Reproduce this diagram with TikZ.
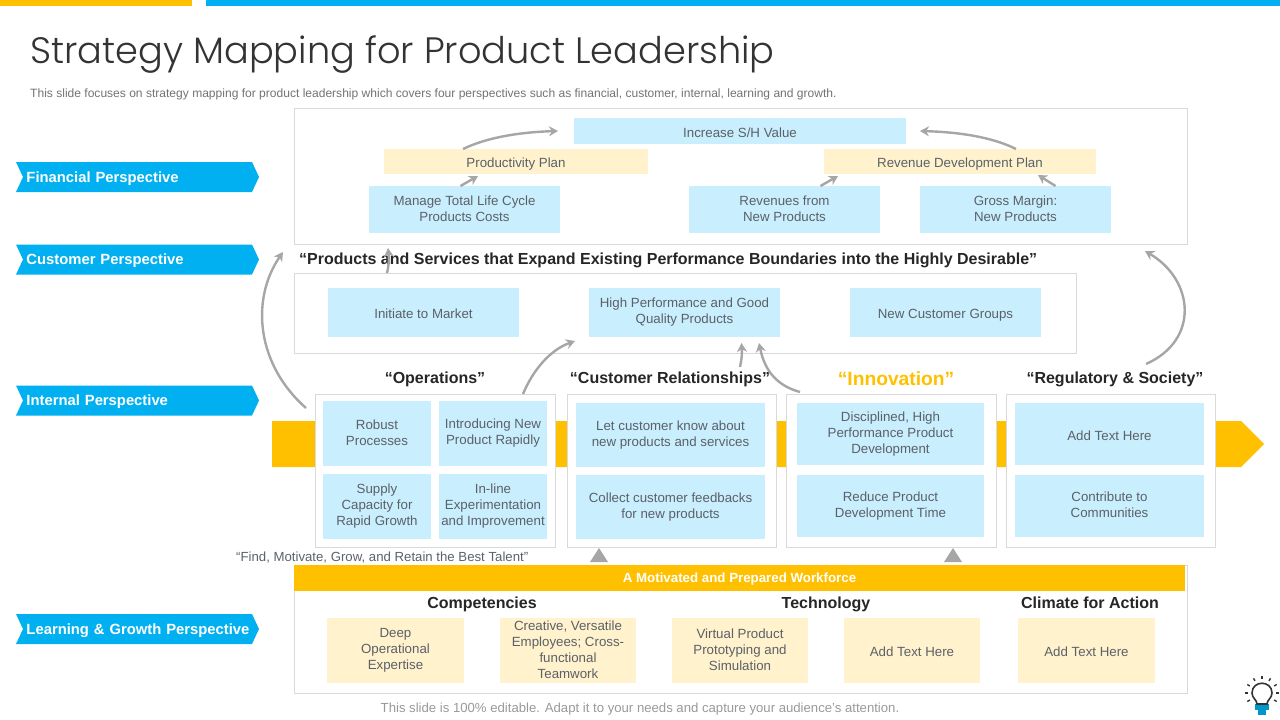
\documentclass[tikz,border=0pt]{standalone}
\usepackage{fontspec}
\setmainfont{Liberation Sans}
\newfontfamily\titlefont{Poppins Light}
\usetikzlibrary{arrows.meta, shapes.symbols}
\definecolor{skyfill}{HTML}{C9EEFD}
\definecolor{creamfill}{HTML}{FFF2CC}
\definecolor{brandyellow}{HTML}{FFC000}
\definecolor{brandblue}{HTML}{00B0F0}
\definecolor{framegray}{HTML}{D9D9D9}
\definecolor{arrowgray}{HTML}{A6A6A6}
\definecolor{bodytext}{HTML}{5B6169}
\tikzset{
  bluebox/.style = {fill = skyfill, text = bodytext, align = center, inner sep = 0pt, outer sep = 0pt, font = \fontsize{13.3}{16}\selectfont, execute at begin node = \rule{0pt}{15.2pt}, execute at end node = \rule[-2.4pt]{0pt}{2.4pt}},
  creambox/.style = {bluebox, fill = creamfill},
  framebox/.style = {draw = framegray, fill = white, line width = 1pt, inner sep = 0pt, outer sep = 0pt},
  tagbox/.style = {signal, signal to = east, signal from = west, signal pointer angle = 130, fill = brandblue, text = white, inner sep = 0pt, outer sep = 0pt, minimum width = 243pt, minimum height = 30pt, text width = 222pt, text height = 13pt, text depth = 3pt, font = \fontsize{14.8}{18}\selectfont\bfseries},
  headtext/.style = {inner sep = 0pt, text = black!85, text height = 14pt, text depth = 3pt, font = \fontsize{16}{20}\selectfont\bfseries},
  flowarrow/.style = {draw = arrowgray, line width = 2.4pt, -{Stealth[length = 9pt, width = 10pt]}}
}

\begin{document}
\begin{tikzpicture}[x = 1pt, y = -1pt]
  \useasboundingbox (0,0) rectangle (1280,720);
  % top stripes
  \fill[brandyellow] (0,0) rectangle (192,6);
  \fill[brandblue] (206,0) rectangle (1280,6);
  % title
  \node[anchor = west, inner sep = 0pt, text = black!80] (title) at (30,55) {\titlefont\fontsize{36.75}{42}\selectfont Strategy Mapping for Product Leadership};
  \node[anchor = west, inner sep = 0pt, text = black!55] (subtitle) at (30,94) {\fontsize{12.05}{14}\selectfont This slide focuses on strategy mapping for product leadership which covers four perspectives such as financial, customer, internal, learning and growth.};
  % perspectives
  \node[tagbox] (financial) at (137.5,177) {Financial Perspective};
  \node[tagbox] (customer) at (137.5,259.5) {Customer Perspective};
  \node[tagbox] (internal) at (137.5,400.5) {Internal Perspective};
  \node[tagbox] (learning) at (137.5,629) {\mbox{Learning \& Growth Perspective}};
  % long arrow behind the frames
  \node[signal, signal to = east, anchor = west, fill = brandyellow, inner sep = 0pt, outer sep = 0pt, minimum width = 992pt, minimum height = 46pt] (band) at (272,444) {};
  % frames
  \node[framebox, minimum width = 893pt, minimum height = 136pt] (financeframe) at (740.5,176) {};
  \node[framebox, minimum width = 782pt, minimum height = 80pt] (customerframe) at (685,313) {};
  \node[framebox, minimum width = 240pt, minimum height = 153pt] (opsframe) at (435,470.5) {};
  \node[framebox, minimum width = 209pt, minimum height = 153pt] (relframe) at (671.5,470.5) {};
  \node[framebox, minimum width = 210pt, minimum height = 153pt] (innoframe) at (891,470.5) {};
  \node[framebox, minimum width = 209pt, minimum height = 153pt] (regframe) at (1110.5,470.5) {};
  \node[framebox, minimum width = 893pt, minimum height = 128pt] (workframe) at (740.5,629) {};
  % financial boxes
  \node[bluebox, minimum width = 332pt, minimum height = 26pt] (shvalue) at (740,131) {Increase S/H Value};
  \node[creambox, minimum width = 264pt, minimum height = 25pt] (prodplan) at (516,161.5) {Productivity Plan};
  \node[creambox, minimum width = 272pt, minimum height = 25pt] (revplan) at (960,161.5) {Revenue Development Plan};
  \node[bluebox, minimum width = 191pt, minimum height = 47pt] (lifecycle) at (464.5,209.5) {Manage Total Life Cycle\\Products Costs};
  \node[bluebox, minimum width = 191pt, minimum height = 47pt] (revenues) at (784.5,209.5) {Revenues from\\New Products};
  \node[bluebox, minimum width = 191pt, minimum height = 47pt] (margin) at (1015.5,209.5) {Gross Margin:\\New Products};
  % customer row
  \node[headtext, anchor = west] (customerhead) at (299,259) {“Products and Services that Expand Existing Performance Boundaries into the Highly Desirable”};
  \node[bluebox, minimum width = 191pt, minimum height = 49pt] (market) at (423.5,312.5) {Initiate to Market};
  \node[bluebox, minimum width = 191pt, minimum height = 49pt] (quality) at (684.5,312.5) {High Performance and Good\\Quality Products};
  \node[bluebox, minimum width = 191pt, minimum height = 49pt] (groups) at (945.5,312.5) {New Customer Groups};
  % internal columns
  \node[headtext] (opshead) at (435,378) {“Operations”};
  \node[headtext] (relhead) at (670,378) {“Customer Relationships”};
  \node[headtext, text = brandyellow, text height = 17pt, font = \fontsize{19.2}{24}\selectfont\bfseries] (innohead) at (896,378) {“Innovation”};
  \node[headtext] (reghead) at (1115,378) {“Regulatory \& Society”};
  \node[bluebox, minimum width = 108pt, minimum height = 65pt] (robust) at (377,433.5) {Robust\\Processes};
  \node[bluebox, minimum width = 108pt, minimum height = 65pt] (rapidly) at (493,433.5) {Introducing New\\Product Rapidly};
  \node[bluebox, minimum width = 108pt, minimum height = 65pt] (supply) at (377,506.5) {Supply\\Capacity for\\Rapid Growth};
  \node[bluebox, minimum width = 108pt, minimum height = 65pt] (inline) at (493,506.5) {In-line\\Experimentation\\and Improvement};
  \node[bluebox, minimum width = 189pt, minimum height = 64pt] (letknow) at (670.5,435) {Let customer know about\\new products and services};
  \node[bluebox, minimum width = 189pt, minimum height = 64pt] (feedback) at (670.5,507) {Collect customer feedbacks\\for new products};
  \node[bluebox, minimum width = 187pt, minimum height = 62pt] (disciplined) at (890.5,434) {Disciplined, High\\Performance Product\\Development};
  \node[bluebox, minimum width = 187pt, minimum height = 62pt] (reduce) at (890.5,506) {Reduce Product\\Development Time};
  \node[bluebox, minimum width = 189pt, minimum height = 62pt] (regone) at (1109.5,434) {Add Text Here};
  \node[bluebox, minimum width = 189pt, minimum height = 62pt] (regtwo) at (1109.5,506) {Contribute to\\Communities};
  % workforce
  \node[anchor = west, inner sep = 0pt, text = bodytext] (talent) at (236,558) {\fontsize{13.2}{15}\selectfont “Find, Motivate, Grow, and Retain the Best Talent”};
  \fill[arrowgray] (590,562) -- (599,548) -- (608,562) -- cycle;
  \fill[arrowgray] (944,562) -- (953,548) -- (962,562) -- cycle;
  \node[fill = brandyellow, text = white, inner sep = 0pt, outer sep = 0pt, minimum width = 891pt, minimum height = 26pt, text height = 12.5pt, text depth = 3pt, font = \fontsize{13.3}{15}\selectfont\bfseries] (workbar) at (739.5,578) {A Motivated and Prepared Workforce};
  \node[headtext] (comphead) at (482,603) {Competencies};
  \node[headtext] (techhead) at (826,603) {Technology};
  \node[headtext] (climatehead) at (1090,603) {Climate for Action};
  \node[creambox, minimum width = 137pt, minimum height = 65pt] (deep) at (395.5,650.5) {Deep\\Operational\\Expertise};
  \node[creambox, minimum width = 136pt, minimum height = 65pt] (creative) at (568,650.5) {Creative, Versatile\\Employees; Cross-\\functional\\Teamwork};
  \node[creambox, minimum width = 136pt, minimum height = 65pt] (virtual) at (740,650.5) {Virtual Product\\Prototyping and\\Simulation};
  \node[creambox, minimum width = 136pt, minimum height = 65pt] (techtext) at (912,650.5) {Add Text Here};
  \node[creambox, minimum width = 137pt, minimum height = 65pt] (climatetext) at (1086.5,650.5) {Add Text Here};
  \node[inner sep = 0pt, text = black!40] (footer) at (640,709) {\fontsize{13.15}{15}\selectfont This slide is 100\% editable. Adapt it to your needs and capture your audience's attention.};
  % connectors
  \coordinate (relstart) at (740,367);
  \draw[flowarrow] ([xshift = -53pt]prodplan.north) .. controls (490,136) and (525,132) .. ([xshift = -16pt]shvalue.west);
  \draw[flowarrow] ([xshift = -4pt]lifecycle.north) -- ([xshift = -38pt, yshift = -2pt]prodplan.south);
  \draw[flowarrow] ([xshift = 56pt]revplan.north) .. controls (990,136) and (955,132) .. ([xshift = 14pt]shvalue.east);
  \draw[flowarrow] ([xshift = 36pt]revenues.north) -- ([xshift = -122pt, yshift = -2pt]revplan.south);
  \draw[flowarrow] ([xshift = 40pt]margin.north) -- ([xshift = 78pt, yshift = -1pt]revplan.south);
  \draw[flowarrow] ([xshift = 35.5pt, yshift = 30pt]regframe.north) .. controls (1200,340) and (1194,280) .. ([xshift = 404.5pt, yshift = -7pt]financeframe.south);
  \draw[flowarrow] ([xshift = -9pt, yshift = -14pt]opsframe.north west) .. controls (257,365) and (250,300) .. ([xshift = -11pt, yshift = -8pt]financeframe.south west);
  \draw[flowarrow] ([xshift = -298pt]customerframe.north) .. controls (389,265) and (389,258) .. ([xshift = -352.5pt, yshift = -4pt]financeframe.south);
  \draw[flowarrow] ([xshift = 88pt]opsframe.north) .. controls (533,370) and (550,350) .. ([xshift = -109.5pt, yshift = -4pt]quality.south);
  \draw[flowarrow] (relstart) .. controls (742,358) and (742,352) .. ([xshift = 57pt, yshift = -6pt]quality.south);
  \draw[flowarrow] ([xshift = -91pt, yshift = 2pt]innoframe.north) .. controls (778,386) and (765,372) .. ([xshift = 74.5pt, yshift = -6pt]quality.south);
  % bulb
  \fill[brandblue!85!black] (1255,704) rectangle (1269,710);
  \fill[brandblue!85!black] (1258,710) rectangle (1266,715);
  \draw[black!80, line width = 1.6pt] (1257,704) .. controls (1257,700) and (1252,698) .. (1252,693) .. controls (1252,680) and (1272,680) .. (1272,693) .. controls (1272,698) and (1267,700) .. (1267,704) -- cycle;
  \foreach \ang in {-210, -180, -150, -120, -90, -60, -30, 0, 30}
    \draw[black!80, line width = 1.4pt] (1262,693) ++(\ang:14) -- ++(\ang:3);
\end{tikzpicture}
\end{document}
